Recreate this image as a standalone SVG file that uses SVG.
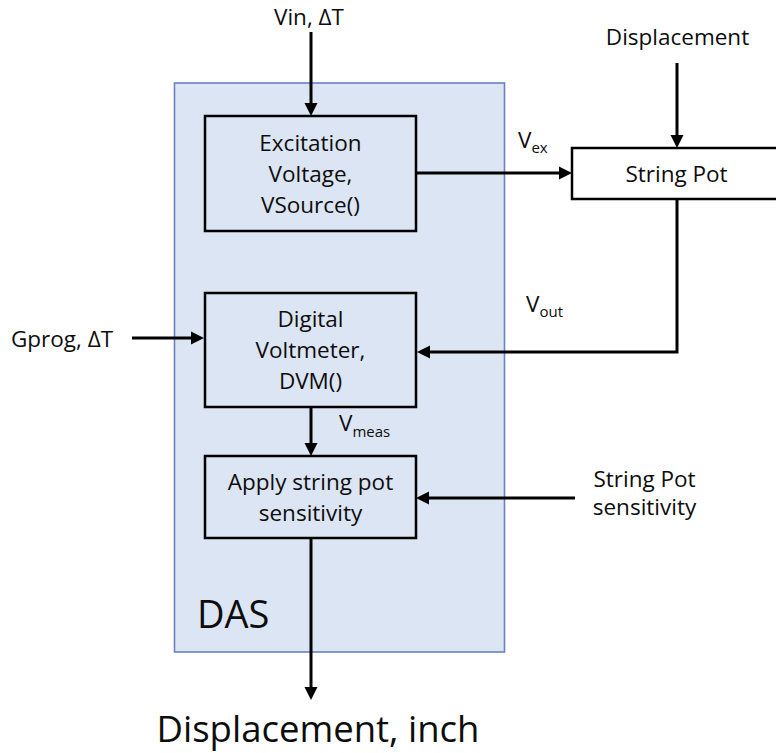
<svg xmlns="http://www.w3.org/2000/svg" width="776" height="753" viewBox="0 0 776 753">
<style>
  text { font-family: "Open Sans", "Liberation Sans", sans-serif; fill: #0d0d0d; }
  .lbl { font-size: 22.5px; }
  .mid { text-anchor: middle; }
  .sub { font-size: 15px; }
  .box { fill: none; stroke: #000; stroke-width: 2.5; }
  .wbox { fill: #fff; stroke: #000; stroke-width: 2.5; }
  .conn { fill: none; stroke: #000; stroke-width: 3; marker-end: url(#arr); }
</style>
<defs>
  <marker id="arr" markerUnits="userSpaceOnUse" viewBox="0 -6.5 13 13" refX="0" refY="0" markerWidth="13" markerHeight="13" orient="auto" overflow="visible">
    <path d="M0,-6.5 L13,0 L0,6.5 z" fill="#000"/>
  </marker>
</defs>
<rect width="776" height="753" fill="#fff"/>

<g id="das">
  <rect x="174.5" y="83" width="330" height="569" fill="#dce5f3" stroke="#6b80c6" stroke-width="1.6"/>
  <text x="197" y="628" style="font-size:38px">DAS</text>
</g>

<g id="excitation">
  <rect class="box" x="205" y="116" width="211" height="115"/>
  <text class="lbl mid" x="310.5" y="151">Excitation</text>
  <text class="lbl mid" x="310.5" y="182">Voltage,</text>
  <text class="lbl mid" x="310.5" y="213">VSource()</text>
</g>

<g id="dvm">
  <rect class="box" x="205" y="293" width="211" height="114"/>
  <text class="lbl mid" x="310.5" y="327">Digital</text>
  <text class="lbl mid" x="310.5" y="358">Voltmeter,</text>
  <text class="lbl mid" x="310.5" y="389">DVM()</text>
</g>

<g id="apply">
  <rect class="box" x="205" y="456" width="211" height="82"/>
  <text class="lbl mid" x="310.5" y="490">Apply string pot</text>
  <text class="lbl mid" x="310.5" y="521">sensitivity</text>
</g>

<g id="stringpot">
  <rect class="wbox" x="572" y="148" width="220" height="51"/>
  <text class="lbl mid" x="676.5" y="182">String Pot</text>
</g>

<g id="in-vin">
  <text class="lbl mid" x="309" y="25">Vin, ΔT</text>
</g>
<g id="in-displacement">
  <text class="lbl mid" x="677.5" y="45">Displacement</text>
</g>
<g id="in-gprog">
  <text class="lbl" x="11" y="347">Gprog, ΔT</text>
</g>
<g id="in-sensitivity">
  <text class="lbl mid" x="644.5" y="487">String Pot</text>
  <text class="lbl mid" x="644.5" y="515">sensitivity</text>
</g>
<g id="out-displacement">
  <text class="mid" x="318" y="742" style="font-size:36.5px">Displacement, inch</text>
</g>

<g id="connectors">
  <line class="conn" x1="311" y1="32" x2="311" y2="103"/>
  <line class="conn" x1="677" y1="63" x2="677" y2="135"/>
  <line class="conn" x1="416" y1="173" x2="559" y2="173"/>
  <path class="conn" d="M677,199 V352 H430"/>
  <line class="conn" x1="132" y1="338" x2="191" y2="338"/>
  <line class="conn" x1="311" y1="407" x2="311" y2="443"/>
  <line class="conn" x1="575" y1="498" x2="429" y2="498"/>
  <line class="conn" x1="311" y1="538" x2="311" y2="687"/>
  <text class="lbl" x="518" y="148">V<tspan class="sub" dy="5">ex</tspan></text>
  <text class="lbl" x="526" y="312">V<tspan class="sub" dy="5">out</tspan></text>
  <text class="lbl" x="339" y="431">V<tspan class="sub" dy="6">meas</tspan></text>
</g>
</svg>
